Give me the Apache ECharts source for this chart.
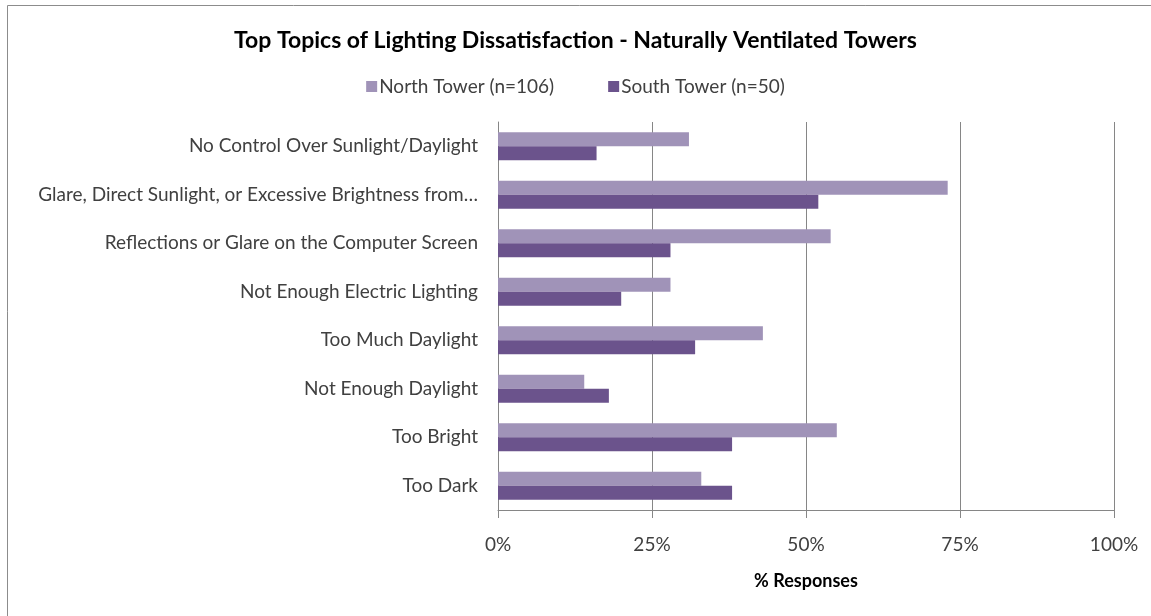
<!DOCTYPE html>
<html>
<head>
<meta charset="utf-8">
<script src="https://cdn.jsdelivr.net/npm/echarts@6/dist/echarts.min.js"></script>
<style>html,body{margin:0;padding:0;background:#fff}#c{width:1151px;height:616px}</style>
</head>
<body>
<div id="c"></div>
<script>
const categories = [
  "No Control Over Sunlight/Daylight",
  "Glare, Direct Sunlight, or Excessive Brightness from\u2026",
  "Reflections or Glare on the Computer Screen",
  "Not Enough Electric Lighting",
  "Too Much Daylight",
  "Not Enough Daylight",
  "Too Bright",
  "Too Dark"
];
const northTower = [31, 73, 54, 28, 43, 14, 55, 33];
const southTower = [16, 52, 28, 20, 32, 18, 38, 38];
const seriesNames = ["North Tower (n=106)", "South Tower (n=50)"];
const xTicks = [0, 25, 50, 75, 100];

const FONT = "Lato, 'Open Sans', sans-serif";
const chart = echarts.init(document.getElementById('c'), null, {renderer: 'canvas'});
chart.setOption({
  backgroundColor: '#fff',
  animation: false,
  title: {
    text: 'Top Topics of Lighting Dissatisfaction - Naturally Ventilated Towers',
    left: 'center', top: 24,
    textStyle: {fontFamily: FONT, fontWeight: 'bold', fontSize: 23, color: '#000'}
  },
  legend: {
    top: 72, left: 'center',
    itemWidth: 11, itemHeight: 11, itemGap: 54,
    icon: 'rect',
    textStyle: {fontFamily: FONT, fontSize: 19, color: '#404040', padding: [0, 0, 0, -3]},
    data: seriesNames
  },
  graphic: [{
    type: 'rect', shape: {x: 7.5, y: 5.5, width: 1200, height: 700},
    style: {fill: 'none', stroke: '#8c8c8c', lineWidth: 1}, silent: true, z: -10
  }],
  grid: {left: 498, right: 37, top: 122, bottom: 106, containLabel: false},
  xAxis: {
    type: 'value', min: 0, max: 100, interval: 25,
    name: '% Responses', nameLocation: 'middle', nameGap: 62,
    nameTextStyle: {fontFamily: FONT, fontWeight: 'bold', fontSize: 18, color: '#000'},
    axisLine: {show: true, lineStyle: {color: '#868686'}},
    axisTick: {show: true, length: 8, lineStyle: {color: '#868686'}},
    axisLabel: {fontFamily: FONT, fontSize: 19, color: '#404040', margin: 25,
      formatter: v => xTicks.includes(v) ? v + '%' : ''},
    splitLine: {show: true, lineStyle: {color: '#868686'}}
  },
  yAxis: {
    type: 'category', data: categories, inverse: true,
    axisLine: {show: true, lineStyle: {color: '#868686'}},
    axisTick: {show: false},
    axisLabel: {fontFamily: FONT, fontSize: 19, color: '#404040', margin: 20}
  },
  series: [
    {name: seriesNames[0], type: 'bar', data: northTower, barWidth: 14, barGap: '0%',
      itemStyle: {color: '#a093b8'}},
    {name: seriesNames[1], type: 'bar', data: southTower, barWidth: 14, barGap: '0%',
      itemStyle: {color: '#6b538c'}}
  ]
});
</script>
</body>
</html>
